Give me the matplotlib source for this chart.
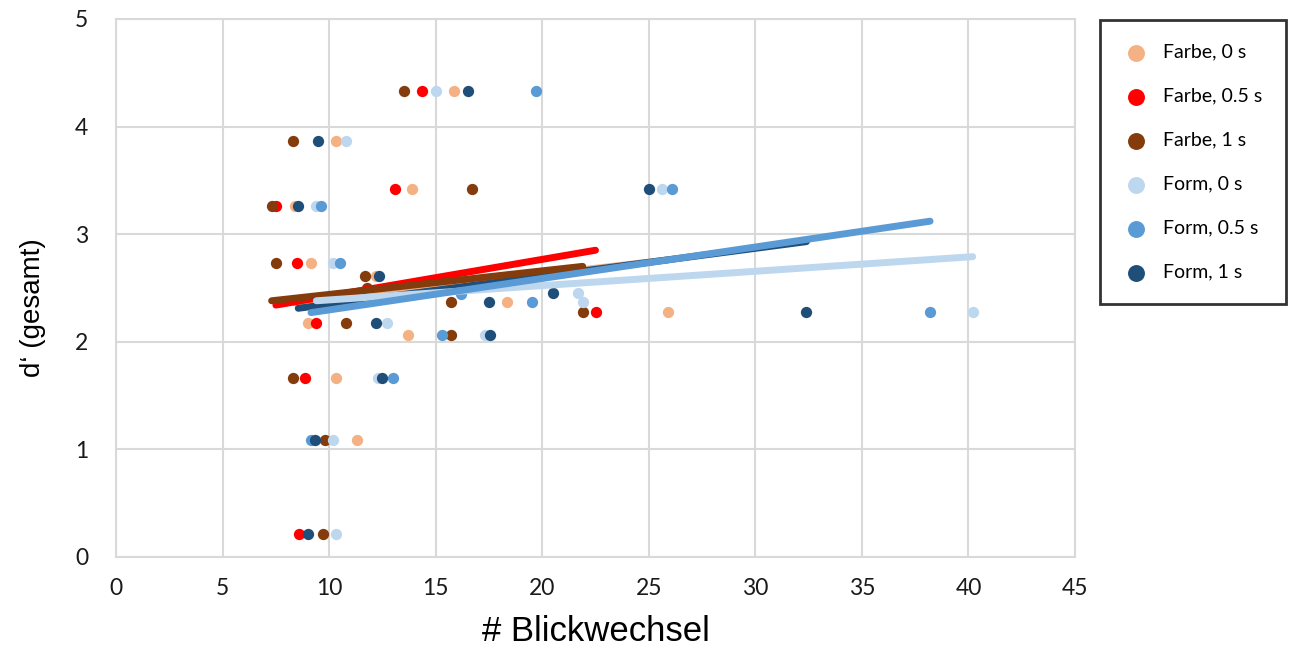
import numpy as np
import matplotlib
matplotlib.use("Agg")
import matplotlib.pyplot as plt

# values
labels = ["Farbe, 0 s", "Farbe, 0.5 s", "Farbe, 1 s", "Form, 0 s", "Form, 0.5 s", "Form, 1 s"]
colors = ["#F4B183", "#FF0000", "#843C0C", "#BDD7EE", "#5B9BD5", "#1F4E79"]

farbe_0_x = [15.85, 10.3, 13.9, 8.4, 9.15, 12.2, 18.35, 25.9, 9.0, 13.7, 10.3, 11.3]
farbe_0_y = [4.33, 3.87, 3.42, 3.26, 2.73, 2.61, 2.37, 2.28, 2.17, 2.06, 1.66, 1.09]

farbe_05_x = [14.36, 13.1, 7.5, 8.5, 22.5, 9.4, 8.85, 8.6]
farbe_05_y = [4.33, 3.42, 3.26, 2.73, 2.28, 2.17, 1.66, 0.21]

farbe_1_x = [13.5, 8.3, 16.7, 7.3, 7.5, 11.7, 11.8, 15.7, 21.9, 10.8, 15.7, 8.3, 9.8, 9.7]
farbe_1_y = [4.33, 3.87, 3.42, 3.26, 2.73, 2.61, 2.50, 2.37, 2.28, 2.17, 2.06, 1.66, 1.09, 0.21]

form_0_x = [15.0, 10.8, 25.6, 9.4, 10.2, 21.7, 21.9, 40.2, 12.7, 17.3, 12.3, 10.2, 10.3]
form_0_y = [4.33, 3.87, 3.42, 3.26, 2.73, 2.45, 2.37, 2.28, 2.17, 2.06, 1.66, 1.09, 0.21]

form_05_x = [19.7, 26.1, 9.6, 10.5, 16.2, 19.5, 38.2, 15.3, 13.0, 9.15]
form_05_y = [4.33, 3.42, 3.26, 2.73, 2.44, 2.37, 2.28, 2.06, 1.66, 1.09]

form_1_x = [16.5, 9.5, 25.0, 8.55, 12.35, 17.5, 20.5, 32.4, 12.2, 17.55, 12.5, 9.35, 9.0]
form_1_y = [4.33, 3.87, 3.42, 3.26, 2.61, 2.37, 2.45, 2.28, 2.17, 2.06, 1.66, 1.09, 0.21]

# trend lines as shown in the picture (start / end)
trend_x0 = [8.4, 7.5, 7.3, 9.4, 9.15, 8.55]
trend_x1 = [25.9, 22.5, 21.9, 40.2, 38.2, 32.4]
trend_y0 = [2.36, 2.34, 2.38, 2.38, 2.27, 2.31]
trend_y1 = [2.76, 2.85, 2.70, 2.79, 3.12, 2.93]

series = [(farbe_0_x, farbe_0_y), (farbe_05_x, farbe_05_y), (farbe_1_x, farbe_1_y),
          (form_0_x, form_0_y), (form_05_x, form_05_y), (form_1_x, form_1_y)]

fig = plt.figure(figsize=(12.95, 6.55), dpi=100)
ax = fig.add_axes([0.0896, 0.150, 0.7405, 0.821])

for (x, y), c, lab in zip(series, colors, labels):
    ax.scatter(x, y, s=66, color=c, label=lab, zorder=3, linewidths=0)

# draw order of the trend lines
for i in [0, 5, 1, 2, 3, 4]:
    ax.plot([trend_x0[i], trend_x1[i]], [trend_y0[i], trend_y1[i]], color=colors[i],
            lw=5, solid_capstyle="round", zorder=4)

ax.set_xlim(0, 45)
ax.set_ylim(0, 5)
ax.set_xticks(range(0, 46, 5))
ax.set_yticks(range(0, 6))
ax.grid(True, color="#D9D9D9", lw=1.5)
ax.set_axisbelow(True)
for s in ax.spines.values():
    s.set_color("#D9D9D9")
    s.set_linewidth(1.5)
ax.tick_params(length=0, labelsize=16.5, colors="#1a1a1a")
ax.tick_params(axis="x", pad=15)
ax.tick_params(axis="y", pad=20)
for t in ax.get_xticklabels() + ax.get_yticklabels():
    t.set_family("Lato")

ax.set_xlabel("# Blickwechsel", fontsize=25, family="Liberation Sans", labelpad=12)
ax.set_ylabel("d‘ (gesamt)", fontsize=20, family="Liberation Sans")
ax.yaxis.set_label_coords(-0.073, 0.463)

leg = fig.legend(loc="upper left", bbox_to_anchor=(0.8495, 0.969), frameon=True,
                 fancybox=False, edgecolor="black", prop={"family": "Lato", "size": 14},
                 labelspacing=1.39, borderpad=1.2, handletextpad=0.75, markerscale=1.5,
                 borderaxespad=0, handlelength=1.3)
leg.get_frame().set_linewidth(2)

fig.savefig("out.png", dpi=100)
